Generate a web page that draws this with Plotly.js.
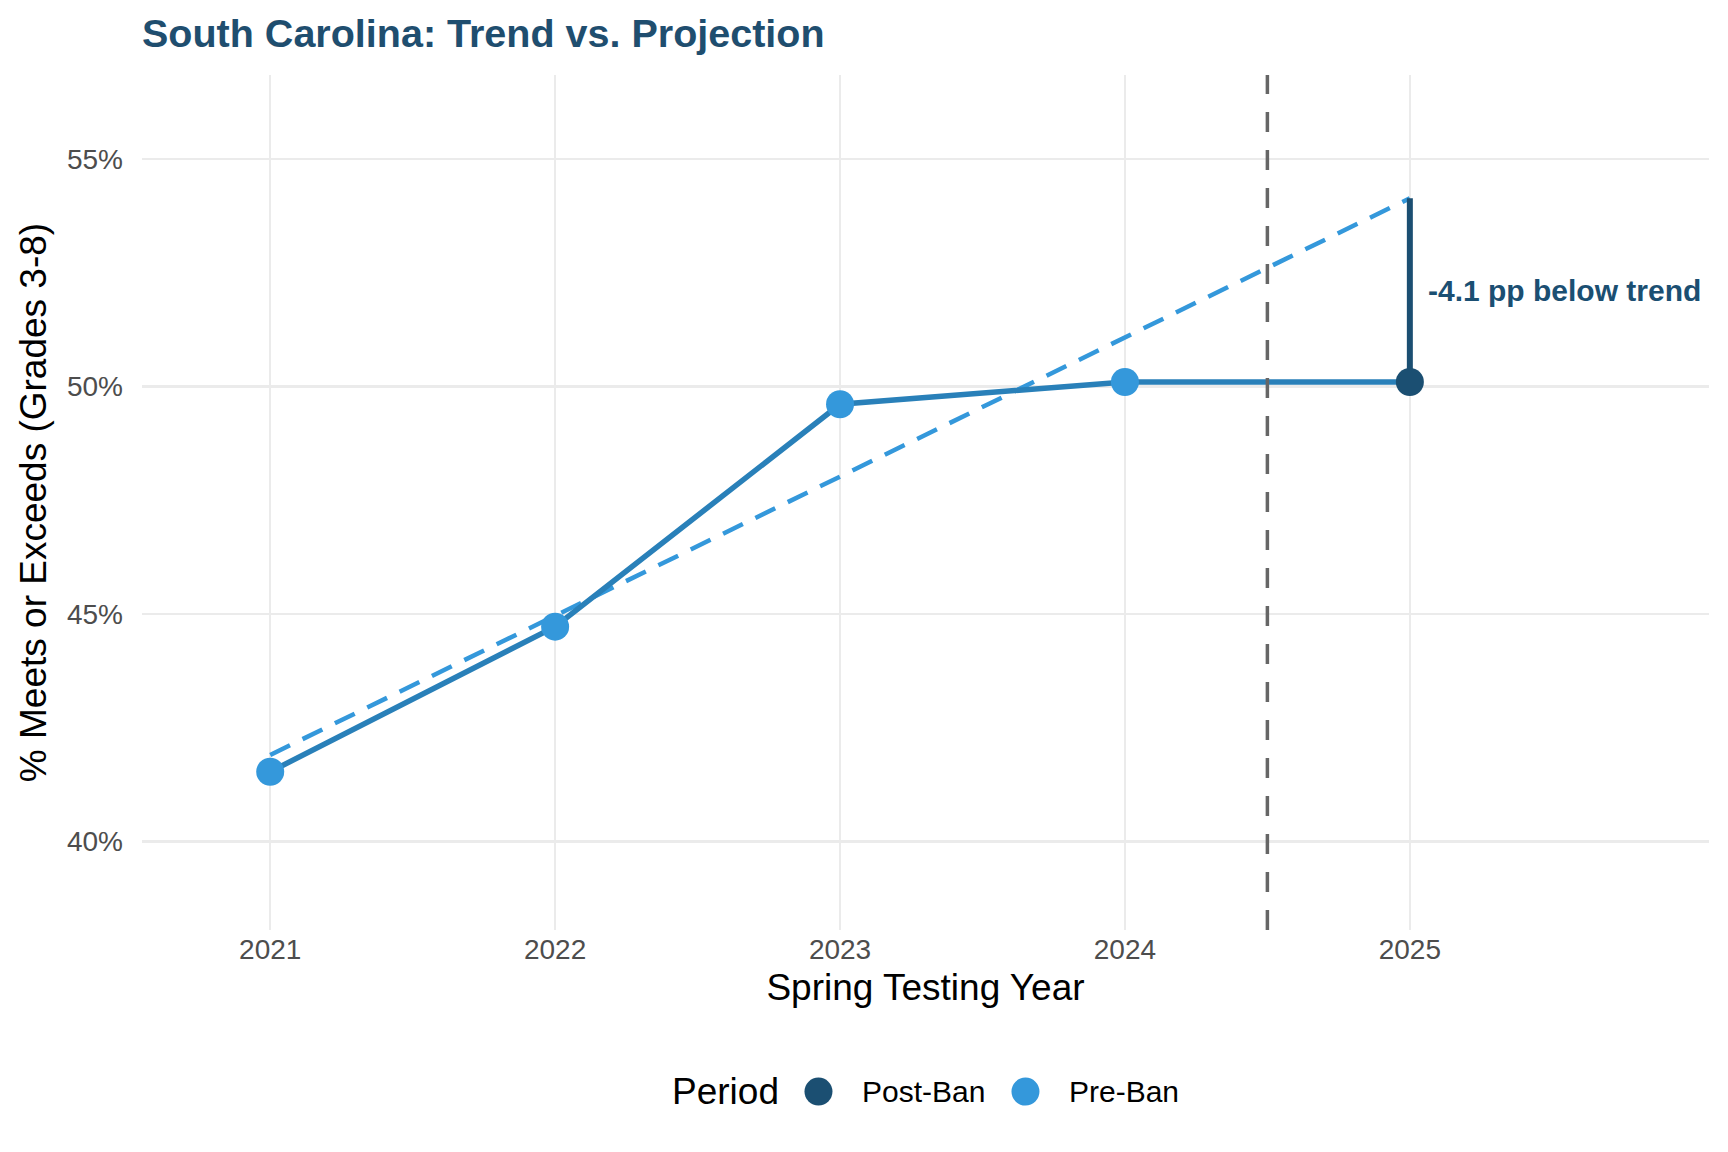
<!DOCTYPE html>
<html>
<head>
<meta charset="utf-8">
<script src="https://cdn.plot.ly/plotly-3.0.1.min.js"></script>
<style>body{margin:0;background:#fff;} #chart{width:1728px;height:1152px;}</style>
</head>
<body>
<div id="chart"></div>
<script>
// values
const years = [2021, 2022, 2023, 2024, 2025];
const actual = [41.53, 44.72, 49.61, 50.1, 50.1];
const trend = [41.9, 44.96, 48.02, 51.08, 54.14];
const pre_years = [2021, 2022, 2023, 2024];
const pre_values = [41.53, 44.72, 49.61, 50.1];
const post_years = [2025];
const post_values = [50.1];
const y_ticks = [40, 45, 50, 55];
const ban_year = 2024.5;
const gap_label = "-4.1 pp below trend";
const periods = ["Post-Ban", "Pre-Ban"];

const dark = "#1b4f72", light = "#3498db", mid = "#2980b9";
const period_colors = [dark, light];

const traces = [
    {x: years, y: trend, mode: "lines", line: {color: light, width: 4.5, dash: "22px,14px"}, hoverinfo: "skip"},
    {x: years, y: actual, mode: "lines", line: {color: mid, width: 5.5}, hoverinfo: "skip"},
    {x: [years[4], years[4]], y: [actual[4], trend[4]], mode: "lines", line: {color: dark, width: 6}, hoverinfo: "skip"},
    {x: post_years, y: post_values, mode: "markers", name: periods[0], marker: {color: dark, size: 28}},
    {x: pre_years, y: pre_values, mode: "markers", name: periods[1], marker: {color: light, size: 28}}];

// legend drawn by hand so the keys can be as big as the reference's
const leg_y = -0.189;
const leg_text_x = [0.4585, 0.5906], leg_dot_x = [0.4317, 0.5638];
const legend_notes = [{x: 0.3372, y: leg_y, xref: "paper", yref: "paper", text: "Period", showarrow: false,
    xanchor: "left", yanchor: "middle", font: {size: 37, color: "#000"}}];
const legend_dots = [];
periods.forEach((p, i) => {
    legend_notes.push({x: leg_text_x[i], y: leg_y, xref: "paper", yref: "paper", text: p, showarrow: false,
        xanchor: "left", yanchor: "middle", font: {size: 30, color: "#000"}});
    legend_dots.push({type: "circle", xref: "paper", yref: "paper", xsizemode: "pixel", ysizemode: "pixel",
        xanchor: leg_dot_x[i], yanchor: leg_y, x0: -14, x1: 14, y0: -14, y1: 14,
        fillcolor: period_colors[i], line: {width: 0}});
});

const layout = {
    width: 1728, height: 1152,
    paper_bgcolor: "#fff", plot_bgcolor: "#fff",
    font: {family: "Liberation Sans, Arial, sans-serif", color: "#000"},
    margin: {l: 142, r: 19, t: 75, b: 222},
    showlegend: false,
    title: {text: "<b>South Carolina: Trend vs. Projection</b>", x: 0, xref: "paper", xanchor: "left",
        y: 0.971, yref: "container", yanchor: "middle", font: {size: 39.5, color: "#1f4e6f"}},
    xaxis: {range: [2020.55, 2026.05], tickvals: years, ticktext: years.map(String), showline: false, zeroline: false,
        gridcolor: "#ebebeb", gridwidth: 2.5, ticks: "", ticklen: 0, ticklabelstandoff: 0,
        tickfont: {size: 28, color: "#4d4d4d"},
        title: {text: "Spring Testing Year", font: {size: 37, color: "#000"}, standoff: 10}},
    yaxis: {range: [38.05, 56.85], tickvals: y_ticks, ticktext: y_ticks.map(v => v + "%"), showline: false, zeroline: false,
        gridcolor: "#ebebeb", gridwidth: 2.5, ticks: "", ticklen: 0, ticklabelstandoff: 18,
        tickfont: {size: 28, color: "#4d4d4d"},
        title: {text: "% Meets or Exceeds (Grades 3-8)", font: {size: 37, color: "#000"}, standoff: 9}},
    shapes: [{type: "line", xref: "x", yref: "paper", x0: ban_year, x1: ban_year, y0: 0, y1: 1,
        line: {color: "#666666", width: 3.5, dash: "20px,18px"}, layer: "above"}].concat(legend_dots),
    annotations: [{x: years[4], y: (actual[4] + trend[4]) / 2, xref: "x", yref: "y", text: "<b>" + gap_label + "</b>",
        showarrow: false, xanchor: "left", xshift: 16, font: {size: 30, color: dark}}].concat(legend_notes)
};

Plotly.newPlot("chart", traces, layout, {displayModeBar: false, staticPlot: true});
</script>
</body>
</html>
